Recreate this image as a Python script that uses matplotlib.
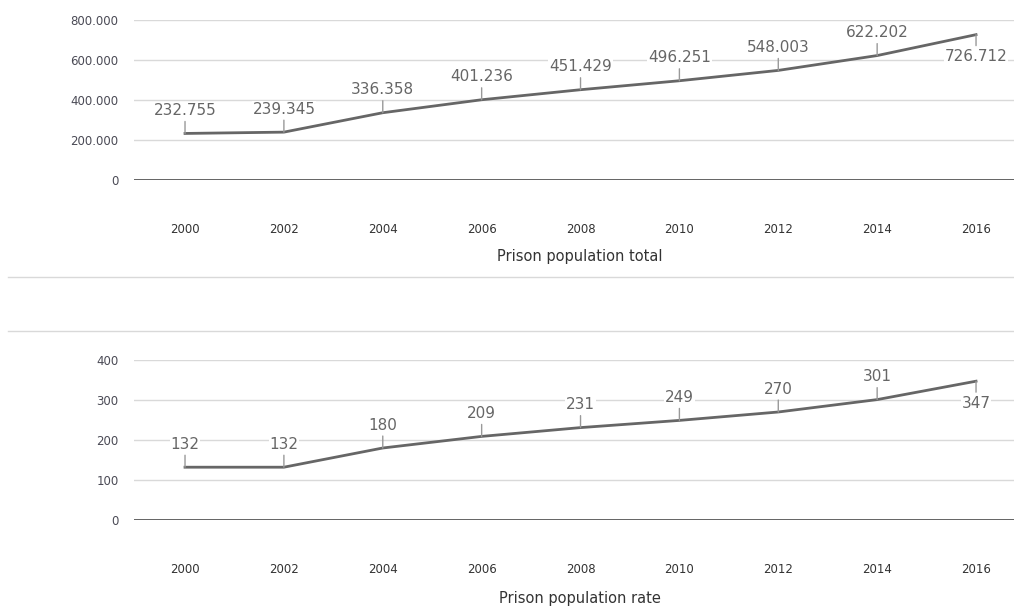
import matplotlib.pyplot as plt
from matplotlib.lines import Line2D

years = ["2000", "2002", "2004", "2006", "2008", "2010", "2012", "2014", "2016"]
total = [232755, 239345, 336358, 401236, 451429, 496251, 548003, 622202, 726712]
rate = [132, 132, 180, 209, 231, 249, 270, 301, 347]

total_ticks = [0, 200000, 400000, 600000, 800000]
total_ticklabels = ["0", "200.000", "400.000", "600.000", "800.000"]
rate_ticks = [0, 100, 200, 300, 400]

W, H = 1014, 610
fig = plt.figure(figsize=(W / 100, H / 100), dpi=100)
plt.rcParams['font.family'] = ['DejaVu Sans']

line_col = "#666666"
grid_col = "#d9d9d9"
label_col = "#666666"


def fmt_dot(v):
    return f"{v:,}".replace(",", ".")


def draw_panel(top_px, values, ticks, ticklabels, labels, title, title_y_px):
    ax = fig.add_axes([134 / W, 1 - (top_px + 160) / H, 880 / W, 160 / H])
    x = list(range(len(values)))
    ax.set_xlim(-0.516, 8.384)
    ax.set_ylim(ticks[0], ticks[-1])
    ax.set_yticks(ticks)
    ax.set_yticklabels(ticklabels)
    ax.set_xticks(x)
    ax.set_xticklabels(years)
    for s in ax.spines.values():
        s.set_visible(False)
    for t in ticks[1:]:
        ax.axhline(t, color=grid_col, lw=1, zorder=0)
    ax.axhline(ticks[0], color="#555555", lw=2, zorder=1)
    ax.tick_params(axis="y", length=0, pad=11, labelsize=8.5, labelcolor="#4a4a55")
    ax.tick_params(axis="x", length=0, pad=31, labelsize=8.5, labelcolor="#333333")
    ax.plot(x, values, color=line_col, lw=2, solid_joinstyle="round", zorder=3)
    for i, (v, lab) in enumerate(zip(values, labels)):
        off = -22 if i == len(values) - 1 else 23
        ax.annotate(lab, xy=(i, v), xytext=(0, off), textcoords="offset pixels",
                    ha="center", va="center", fontsize=11, color=label_col,
                    bbox=dict(boxstyle="square,pad=0.05", fc="white", ec="none"),
                    arrowprops=dict(arrowstyle="-", color="#999999", lw=1,
                                    shrinkA=2, shrinkB=0),
                    zorder=4)
    fig.text(580 / W, 1 - title_y_px / H, title, ha="center", va="center",
             fontsize=10.5, color="#333333")
    return ax


draw_panel(20, total, total_ticks, total_ticklabels, [fmt_dot(v) for v in total],
           "Prison population total", 257)
draw_panel(360, rate, rate_ticks, [str(t) for t in rate_ticks], [str(v) for v in rate],
           "Prison population rate", 598)

for yp in (277, 331):
    fig.add_artist(Line2D([8 / W, 1], [1 - yp / H, 1 - yp / H], color=grid_col, lw=1,
                          transform=fig.transFigure))

fig.savefig("out.png", dpi=100)
